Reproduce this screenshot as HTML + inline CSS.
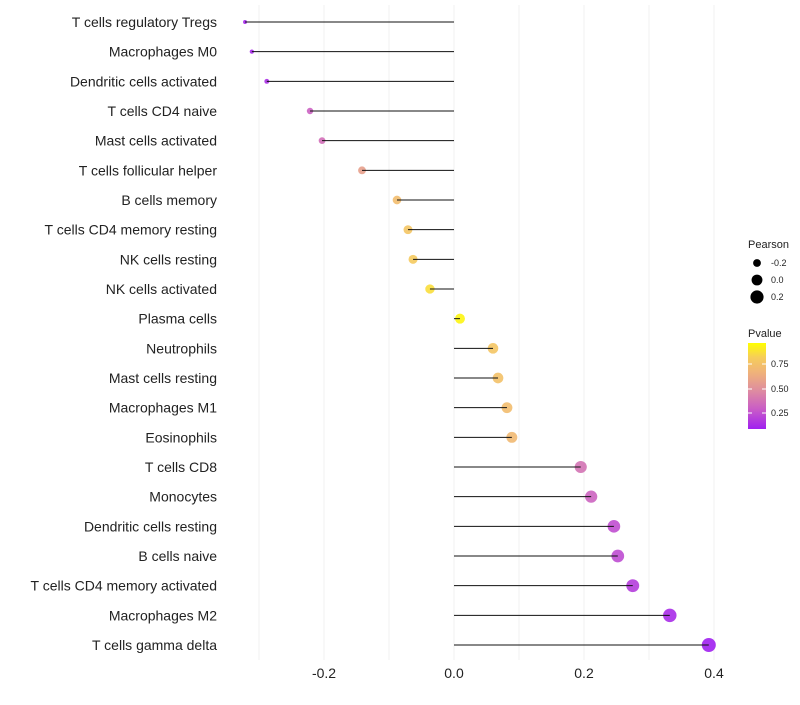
<!DOCTYPE html>
<html><head><meta charset="utf-8"><style>
body{margin:0;background:#fff;font-family:"Liberation Sans",sans-serif;}
</style></head><body>
<svg id="chart" width="800" height="700" xmlns="http://www.w3.org/2000/svg"></svg>
<script>
const categories=["T cells regulatory  Tregs","Macrophages M0","Dendritic cells activated","T cells CD4 naive","Mast cells activated","T cells follicular helper","B cells memory","T cells CD4 memory resting","NK cells resting","NK cells activated","Plasma cells","Neutrophils","Mast cells resting","Macrophages M1","Eosinophils","T cells CD8","Monocytes","Dendritic cells resting","B cells naive","T cells CD4 memory activated","Macrophages M2","T cells gamma delta"];
const pearson=[-0.3215,-0.311,-0.288,-0.2215,-0.203,-0.1415,-0.0877,-0.0708,-0.063,-0.037,0.0092,0.06,0.0677,0.0815,0.089,0.195,0.211,0.246,0.252,0.275,0.332,0.392];
const pvalue=[0.12,0.13,0.15,0.33,0.38,0.6,0.75,0.8,0.83,0.9,0.97,0.8,0.78,0.75,0.73,0.4,0.34,0.26,0.25,0.2,0.14,0.1];
const xTicks=[-0.2,0.0,0.2,0.4];
const xTickLabels=["-0.2","0.0","0.2","0.4"];
const minorTicks=[-0.3,-0.1,0.1,0.3];

const NS="http://www.w3.org/2000/svg";
const svg=document.getElementById('chart');
function X(v){return 454+v*650;}
function Y(i){return 22+i*(623/21);}
function R(v){return Math.sqrt(Math.max(2,4+(v+0.32)*63.4));}
const stops=[[0.1,[160,32,240]],[0.3,[200,90,200]],[0.5,[222,140,160]],[0.7,[240,180,120]],[0.85,[246,205,90]],[1.0,[255,255,0]]];
function col(p){
  if(p<=stops[0][0])return 'rgb('+stops[0][1]+')';
  for(let k=1;k<stops.length;k++){if(p<=stops[k][0]){const a=stops[k-1],b=stops[k];const t=(p-a[0])/(b[0]-a[0]);return 'rgb('+a[1].map((c,j)=>Math.round(c+(b[1][j]-c)*t)).join(',')+')';}}
  return 'rgb(255,255,0)';
}
function el(tag,attrs,parent){const e=document.createElementNS(NS,tag);for(const k in attrs)e.setAttribute(k,attrs[k]);(parent||svg).appendChild(e);return e;}

const grid=el('g',{});


xTicks.concat(minorTicks).forEach(v=>{
  const l=el('line',{x1:X(v),x2:X(v),y1:5,y2:660,stroke:'#f0f0f0','stroke-width':1},grid);
  
  
});
xTicks.forEach((v,i)=>{
  const t=el('text',{x:X(v),y:678,'text-anchor':'middle','font-size':14,fill:'#222'});
  t.textContent=xTickLabels[i];
  
  
});
categories.forEach((c,i)=>{
  const t=el('text',{x:217,y:Y(i)+5,'text-anchor':'end','font-size':14,fill:'#222'});
  t.textContent=c;
  
  
  const ci=el('circle',{cx:X(pearson[i]),cy:Y(i),r:R(pearson[i]),fill:col(pvalue[i]),'fill-opacity':0.9});
  
  
  const ln=el('line',{x1:X(0),x2:X(pearson[i]),y1:Y(i),y2:Y(i),stroke:'#111','stroke-width':1});
  
  
});
// legend
const lg=el('g',{});


let t=el('text',{x:748,y:248,'font-size':11,fill:'#222'},lg);t.textContent='Pearson';
[-0.2,0.0,0.2].forEach((v,i)=>{
  el('circle',{cx:757,cy:263+i*17,r:R(v)+0.5,fill:'#000'},lg);
  const tt=el('text',{x:771,y:266+i*17,'font-size':9,fill:'#222'},lg);tt.textContent=v.toFixed(1);
});
t=el('text',{x:748,y:337,'font-size':11,fill:'#222'},lg);t.textContent='Pvalue';
const defs=el('defs',{});
const g=el('linearGradient',{id:'pg',x1:0,y1:1,x2:0,y2:0},defs);
for(let p=0.1;p<=1.0001;p+=0.05){el('stop',{offset:((p-0.1)/0.9),'stop-color':col(p)},g);}
el('rect',{x:748,y:343,width:18,height:86,fill:'url(#pg)'},lg);
[[0.75,364],[0.5,389],[0.25,413]].forEach(([v,y])=>{
  el('line',{x1:748,x2:752,y1:y,y2:y,stroke:'#fff'},lg);
  el('line',{x1:762,x2:766,y1:y,y2:y,stroke:'#fff'},lg);
  const tt=el('text',{x:771,y:y+3,'font-size':9,fill:'#222'},lg);tt.textContent=v.toFixed(2);
});
</script>
</body></html>
